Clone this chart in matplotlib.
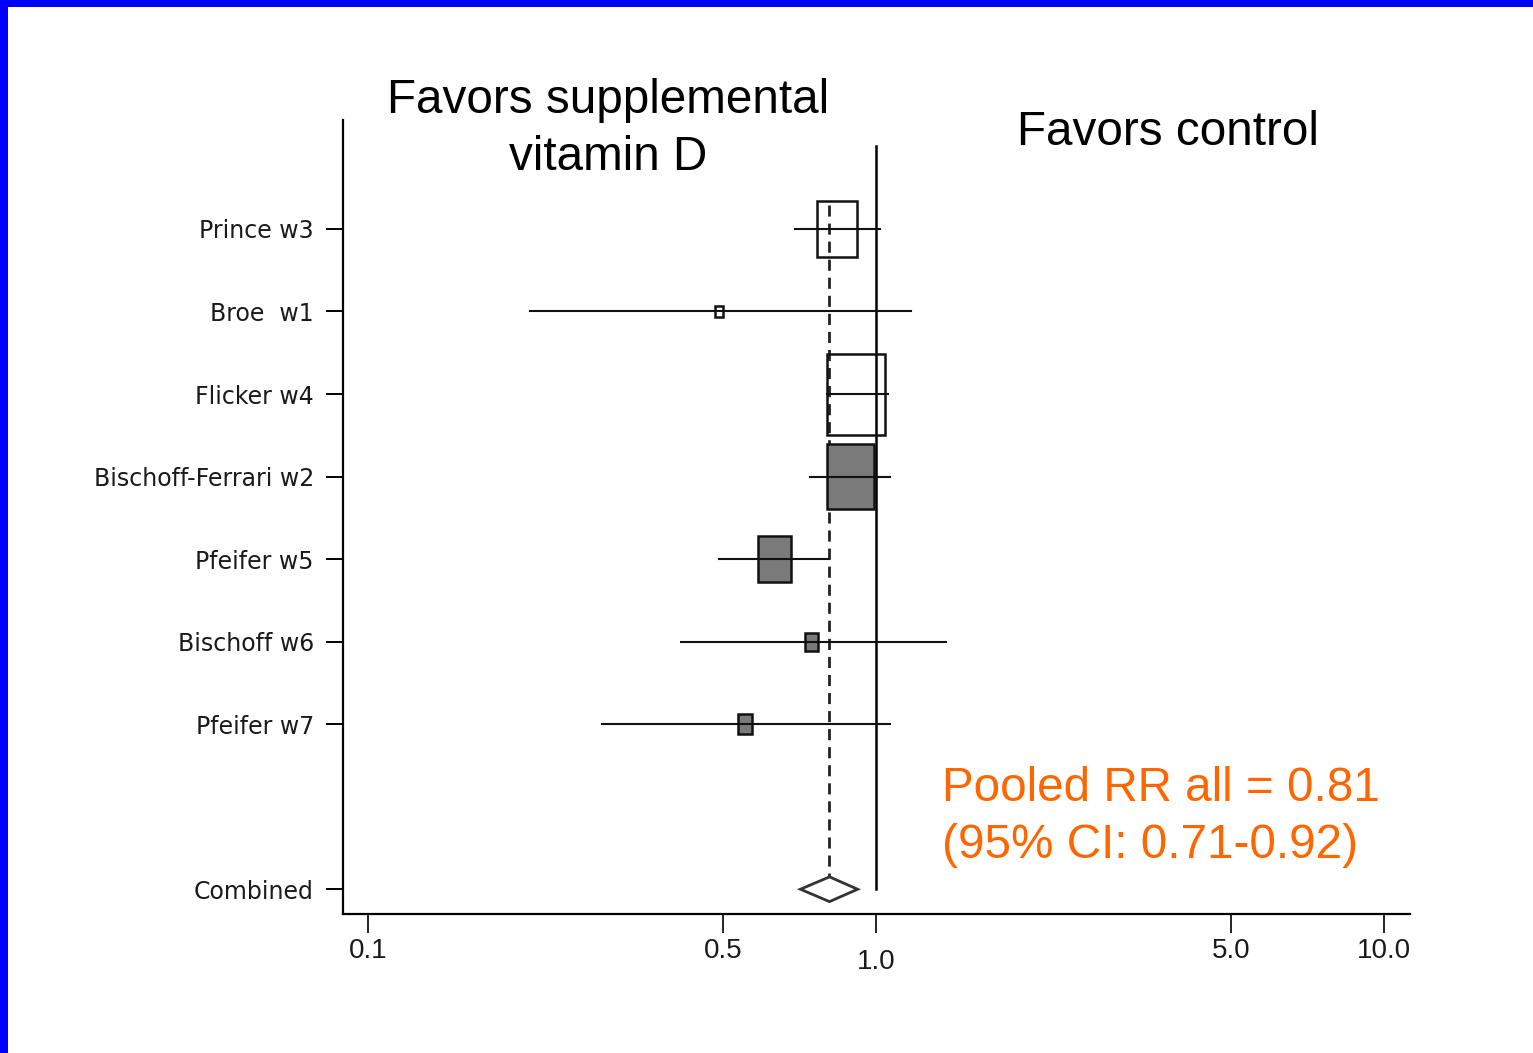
"""
Forest plot: supplemental vitamin D vs control (relative risk, log scale).
"""

import matplotlib as mpl
from matplotlib import pyplot as plt
from matplotlib.patches import Rectangle, Polygon
import numpy as np

mpl.rcParams['font.family'] = ['Liberation Sans', 'DejaVu Sans']

# study data
studies = ["Prince w3", "Broe  w1", "Flicker w4", "Bischoff-Ferrari w2",
           "Pfeifer w5", "Bischoff w6", "Pfeifer w7"]
rr = [0.838, 0.49, 0.913, 0.889, 0.63, 0.748, 0.552]
ci_low = [0.693, 0.208, 0.80, 0.741, 0.49, 0.413, 0.289]
ci_high = [1.02, 1.17, 1.056, 1.066, 0.808, 1.374, 1.066]
weights = [40, 8, 58, 47, 33, 13, 14]          # relative box sizes
filled = [False, False, False, True, True, True, True]

pooled_rr = 0.81
pooled_low = 0.71
pooled_high = 0.92

xticks = [0.1, 0.5, 1.0, 5.0, 10.0]
xtick_labels = ["0.1", "0.5", "1.0", "5.0", "10.0"]

W, H = 1533, 1053
fig = plt.figure(figsize=(W / 100, H / 100), dpi=100)
fig.patch.set_facecolor('white')

# blue slide border (top and left)
fig.patches.append(Rectangle((0, 1 - 7 / H), 1, 7 / H, transform=fig.transFigure,
                             facecolor='#0000ff', edgecolor='none'))
fig.patches.append(Rectangle((0, 0), 8 / W, 1, transform=fig.transFigure,
                             facecolor='#0000ff', edgecolor='none'))

ax = fig.add_axes([343 / W, (H - 914) / H, (1410 - 343) / W, (914 - 120) / H])
ax.set_xscale('log')
ax.set_xlim(0.0893, 11.25)
ax.set_ylim(9.3, -0.32)

ypos = np.arange(1, len(studies) + 1)
ycomb = 9

px_per_decade = 508.0
px_per_row = 82.7

# reference line at 1 and dashed pooled line
ax.plot([1, 1], [0, ycomb], color='black', lw=1.8, zorder=1)
ax.plot([pooled_rr, pooled_rr], [0.71, ycomb - 0.15], color='#222222', lw=2,
        dashes=(4, 2.5), zorder=2)

for i, name in enumerate(studies):
    y = ypos[i]
    hw = weights[i] / 2 / px_per_decade
    x0 = rr[i] * 10 ** (-hw)
    x1 = rr[i] * 10 ** hw
    h = weights[i] * 1.4 / px_per_row
    ax.add_patch(Rectangle((x0, y - h / 2), x1 - x0, h,
                           facecolor='#7a7a7a' if filled[i] else 'none',
                           edgecolor='#111111', lw=1.8, zorder=4))
    ax.plot([ci_low[i], ci_high[i]], [y, y], color='#111111', lw=1.5, zorder=5)

# pooled diamond
dh = 0.15
ax.add_patch(Polygon([(pooled_low, ycomb), (pooled_rr, ycomb - dh),
                      (pooled_high, ycomb), (pooled_rr, ycomb + dh)],
                     closed=True, facecolor='white', edgecolor='#333333', lw=2,
                     zorder=4))

# axes styling
for side in ['top', 'right']:
    ax.spines[side].set_visible(False)
ax.spines['left'].set_linewidth(1.6)
ax.spines['bottom'].set_linewidth(1.6)

ax.set_yticks(list(ypos) + [ycomb])
ax.set_yticklabels(studies + ["Combined"], fontsize=17, color='#1a1a1a',
                   family='DejaVu Sans')
ax.tick_params(axis='y', length=12, width=1.4, pad=9)

ax.set_xticks(xticks)
ax.set_xticklabels(xtick_labels, fontsize=20, color='#1a1a1a')
ax.xaxis.set_minor_locator(mpl.ticker.NullLocator())
ax.tick_params(axis='x', length=14, width=1.2, pad=3)
for t, lab in zip(ax.xaxis.get_major_ticks(), xtick_labels):
    if lab == "1.0":
        t.set_pad(11)

# annotations
def fig_text(x, y_baseline, s, **kw):
    fig.text(x / W, 1 - y_baseline / H, s, fontsize=34.3, va='baseline', **kw)

fig_text(608, 113, "Favors supplemental", ha='center', color='black')
fig_text(608, 170, "vitamin D", ha='center', color='black')
fig_text(1168, 145, "Favors control", ha='center', color='black')
fig_text(942, 801, "Pooled RR all = 0.81", ha='left', color='#ff6600')
fig_text(942, 858, "(95% CI: 0.71-0.92)", ha='left', color='#ff6600')

fig.savefig('out.png', dpi=100)
